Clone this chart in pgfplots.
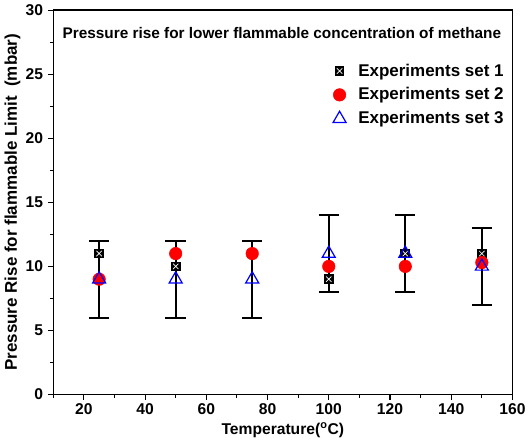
\documentclass[border=0pt]{standalone}
\usepackage{fontspec}
\setmainfont{Liberation Sans}
\usepackage{pgfplots}
\pgfplotsset{compat=1.18}
\usetikzlibrary{plotmarks}

% black box with a white cross inside, like the original marker
\pgfdeclareplotmark{boxx}{%
  \pgfpathrectangle{\pgfqpoint{-\pgfplotmarksize}{-\pgfplotmarksize}}{\pgfqpoint{2\pgfplotmarksize}{2\pgfplotmarksize}}%
  \pgfsetfillcolor{black}\pgfusepathqfill
  \pgfsetstrokecolor{white}\pgfsetlinewidth{0.5pt}%
  \pgfpathmoveto{\pgfqpoint{-0.55\pgfplotmarksize}{-0.55\pgfplotmarksize}}%
  \pgfpathlineto{\pgfqpoint{0.55\pgfplotmarksize}{0.55\pgfplotmarksize}}%
  \pgfpathmoveto{\pgfqpoint{-0.55\pgfplotmarksize}{0.55\pgfplotmarksize}}%
  \pgfpathlineto{\pgfqpoint{0.55\pgfplotmarksize}{-0.55\pgfplotmarksize}}%
  \pgfusepathqstroke
}

\begin{document}
\begin{tikzpicture}
\begin{axis}[
  scale only axis,
  width=338pt, height=283pt,
  xmin=10, xmax=160, ymin=0, ymax=30,
  xtick={20,40,...,160}, minor xtick={10,30,...,150},
  ytick={0,5,...,30}, minor ytick={2.5,7.5,...,27.5},
  xtick pos=bottom, ytick pos=left,
  tick align=outside,
  major tick length=4pt, minor tick length=2.5pt,
  every tick/.style={black, line width=0.8pt},
  axis line style={line width=1pt},
  /pgf/number format/assume math mode=true,
  tick label style={font=\fontsize{11.5}{13}\selectfont\bfseries},
  xticklabel style={yshift=1pt},
  xlabel={Temperature(\textsuperscript{o}C)},
  ylabel={Pressure Rise for flammable Limit\ \ (mbar)},
  xlabel style={font=\fontsize{11.5}{13}\selectfont\bfseries, yshift=1pt},
  ylabel style={font=\fontsize{12.5}{14}\selectfont\bfseries, yshift=-3pt},
  legend style={draw=none, fill=none, at={(0.6,0.875)}, anchor=north west,
    font=\fontsize{12.5}{14}\selectfont\bfseries, row sep=3pt, legend cell align=left},
]
% error bars (drawn first, under the markers)
\addplot[forget plot, draw=none, mark=none,
  error bars/.cd, y dir=both, y explicit,
  error bar style={black, line width=1.4pt}, error mark options={black, line width=1.4pt, mark size=7.5pt, rotate=90}]
  coordinates {(25,9) +- (0,3) (50,9) +- (0,3) (75,9) +- (0,3)
               (100,11) +- (0,3) (125,11) +- (0,3) (150,10) +- (0,3)};
\addplot[only marks, mark=boxx, mark size=3.6pt]
  coordinates {(25,11) (50,10) (75,11) (100,9) (125,11) (150,11)};
\addplot[only marks, mark=*, red, mark size=4.6pt]
  coordinates {(25,9) (50,11) (75,11) (100,10) (125,10) (150,10.3)};
\addplot[only marks, mark=triangle, blue, mark size=5.5pt, mark options={fill=white, line width=0.9pt}]
  coordinates {(25,9) (50,9) (75,9) (100,11) (125,11) (150,10)};
\legend{\hspace{7pt}Experiments set 1, \hspace{7pt}Experiments set 2, \hspace{7pt}Experiments set 3}
\node[anchor=west, font=\fontsize{11.3}{13}\selectfont\bfseries] at (rel axis cs:0.01,0.94)
  {Pressure rise for lower flammable concentration of methane};
\end{axis}
\end{tikzpicture}
\end{document}
